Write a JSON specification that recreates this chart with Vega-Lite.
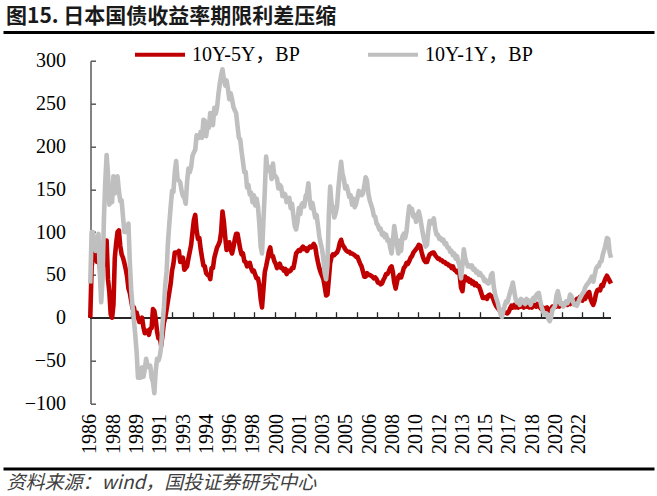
{
"$schema":"https://vega.github.io/schema/vega-lite/v6.json",
"width":651,"height":342.7,
"autosize":{"type":"none"},
"padding":{"left":3,"top":60.7,"right":3,"bottom":92.6},
"background":"white",
"title":{"text":"图15. 日本国债收益率期限利差压缩","anchor":"start","frame":"group","font":"Noto Sans CJK SC","fontSize":21,"fontWeight":"bold","color":"#1a1a1a","offset":1,"dx":3},
"config":{"view":{"stroke":null},"axis":{"grid":false}},
"data":{"values":[
{"t":1986.45,"s5":0,"s1":40},{"t":1986.55,"s5":60,"s1":100},{"t":1986.65,"s5":70,"s1":100},{"t":1986.75,"s5":75,"s1":90},{"t":1986.85,"s5":80,"s1":78},{"t":1986.95,"s5":65,"s1":80},{"t":1987.05,"s5":83,"s1":98},{"t":1987.15,"s5":62,"s1":52},{"t":1987.25,"s5":37,"s1":18},{"t":1987.35,"s5":58,"s1":45},
{"t":1987.45,"s5":66,"s1":115},{"t":1987.55,"s5":82,"s1":158},{"t":1987.65,"s5":90,"s1":190},{"t":1987.75,"s5":45,"s1":168},{"t":1987.85,"s5":30,"s1":132},{"t":1987.95,"s5":4,"s1":140},{"t":1988.05,"s5":0,"s1":135},{"t":1988.15,"s5":15,"s1":165},{"t":1988.25,"s5":70,"s1":145},{"t":1988.35,"s5":87,"s1":157},
{"t":1988.45,"s5":100,"s1":165},{"t":1988.55,"s5":102,"s1":148},{"t":1988.65,"s5":84,"s1":136},{"t":1988.75,"s5":74,"s1":137},{"t":1988.85,"s5":70,"s1":118},{"t":1988.95,"s5":64,"s1":100},{"t":1989.05,"s5":57,"s1":105},{"t":1989.15,"s5":48,"s1":100},{"t":1989.25,"s5":34,"s1":110},{"t":1989.35,"s5":29,"s1":65},
{"t":1989.45,"s5":20,"s1":33},{"t":1989.55,"s5":11,"s1":13},{"t":1989.65,"s5":12,"s1":-3},{"t":1989.75,"s5":3,"s1":-20},{"t":1989.85,"s5":6,"s1":-40},{"t":1989.95,"s5":0,"s1":-70},{"t":1990.05,"s5":-5,"s1":-60},{"t":1990.15,"s5":-5,"s1":-70},{"t":1990.25,"s5":0,"s1":-58},{"t":1990.35,"s5":-11,"s1":-69},
{"t":1990.45,"s5":-18,"s1":-60},{"t":1990.55,"s5":-17,"s1":-48},{"t":1990.65,"s5":-15,"s1":-56},{"t":1990.75,"s5":-20,"s1":-58},{"t":1990.85,"s5":-13,"s1":-56},{"t":1990.95,"s5":-12,"s1":-70},{"t":1991.05,"s5":10,"s1":-75},{"t":1991.15,"s5":8,"s1":-88},{"t":1991.25,"s5":-2,"s1":-62},{"t":1991.35,"s5":-16,"s1":-48},
{"t":1991.45,"s5":-24,"s1":-50},{"t":1991.55,"s5":-22,"s1":-45},{"t":1991.65,"s5":-33,"s1":-34},{"t":1991.75,"s5":-20,"s1":-7},{"t":1991.85,"s5":-6,"s1":12},{"t":1991.95,"s5":0,"s1":38},{"t":1992.05,"s5":10,"s1":54},{"t":1992.15,"s5":20,"s1":88},{"t":1992.25,"s5":30,"s1":110},{"t":1992.35,"s5":40,"s1":130},
{"t":1992.45,"s5":55,"s1":148},{"t":1992.55,"s5":63,"s1":147},{"t":1992.65,"s5":76,"s1":170},{"t":1992.75,"s5":76,"s1":183},{"t":1992.85,"s5":76,"s1":162},{"t":1992.95,"s5":78,"s1":160},{"t":1993.05,"s5":65,"s1":158},{"t":1993.15,"s5":68,"s1":148},{"t":1993.25,"s5":70,"s1":142},{"t":1993.35,"s5":56,"s1":140},
{"t":1993.45,"s5":58,"s1":133},{"t":1993.55,"s5":60,"s1":158},{"t":1993.65,"s5":69,"s1":174},{"t":1993.75,"s5":77,"s1":170},{"t":1993.85,"s5":85,"s1":176},{"t":1993.95,"s5":100,"s1":189},{"t":1994.05,"s5":114,"s1":193},{"t":1994.15,"s5":120,"s1":196},{"t":1994.25,"s5":102,"s1":213},{"t":1994.35,"s5":92,"s1":212},
{"t":1994.45,"s5":93,"s1":210},{"t":1994.55,"s5":80,"s1":217},{"t":1994.65,"s5":70,"s1":210},{"t":1994.75,"s5":61,"s1":231},{"t":1994.85,"s5":60,"s1":230},{"t":1994.95,"s5":52,"s1":212},{"t":1995.05,"s5":50,"s1":223},{"t":1995.15,"s5":50,"s1":222},{"t":1995.25,"s5":45,"s1":239},{"t":1995.35,"s5":58,"s1":227},
{"t":1995.45,"s5":58,"s1":225},{"t":1995.55,"s5":70,"s1":245},{"t":1995.65,"s5":76,"s1":238},{"t":1995.75,"s5":82,"s1":245},{"t":1995.85,"s5":85,"s1":261},{"t":1995.95,"s5":89,"s1":273},{"t":1996.05,"s5":100,"s1":283},{"t":1996.15,"s5":124,"s1":290},{"t":1996.25,"s5":112,"s1":278},{"t":1996.35,"s5":94,"s1":271},
{"t":1996.45,"s5":79,"s1":277},{"t":1996.55,"s5":81,"s1":267},{"t":1996.65,"s5":88,"s1":255},{"t":1996.75,"s5":80,"s1":262},{"t":1996.85,"s5":75,"s1":255},{"t":1996.95,"s5":82,"s1":246},{"t":1997.05,"s5":91,"s1":242},{"t":1997.15,"s5":98,"s1":239},{"t":1997.25,"s5":98,"s1":224},{"t":1997.35,"s5":89,"s1":210},
{"t":1997.45,"s5":80,"s1":208},{"t":1997.55,"s5":74,"s1":194},{"t":1997.65,"s5":75,"s1":182},{"t":1997.75,"s5":66,"s1":170},{"t":1997.85,"s5":65,"s1":170},{"t":1997.95,"s5":60,"s1":152},{"t":1998.05,"s5":61,"s1":155},{"t":1998.15,"s5":64,"s1":144},{"t":1998.25,"s5":58,"s1":146},{"t":1998.35,"s5":54,"s1":135},
{"t":1998.45,"s5":55,"s1":143},{"t":1998.55,"s5":50,"s1":131},{"t":1998.65,"s5":46,"s1":139},{"t":1998.75,"s5":46,"s1":130},{"t":1998.85,"s5":38,"s1":110},{"t":1998.95,"s5":22,"s1":83},{"t":1999.05,"s5":12,"s1":75},{"t":1999.15,"s5":33,"s1":112},{"t":1999.25,"s5":53,"s1":147},{"t":1999.35,"s5":60,"s1":188},
{"t":1999.45,"s5":68,"s1":172},{"t":1999.55,"s5":77,"s1":176},{"t":1999.65,"s5":82,"s1":174},{"t":1999.75,"s5":72,"s1":162},{"t":1999.85,"s5":72,"s1":180},{"t":1999.95,"s5":66,"s1":165},{"t":2000.05,"s5":63,"s1":165},{"t":2000.15,"s5":58,"s1":162},{"t":2000.25,"s5":61,"s1":151},{"t":2000.35,"s5":63,"s1":155},
{"t":2000.45,"s5":58,"s1":153},{"t":2000.55,"s5":58,"s1":142},{"t":2000.65,"s5":55,"s1":145},{"t":2000.75,"s5":57,"s1":144},{"t":2000.85,"s5":51,"s1":135},{"t":2000.95,"s5":55,"s1":136},{"t":2001.05,"s5":54,"s1":140},{"t":2001.15,"s5":55,"s1":128},{"t":2001.25,"s5":58,"s1":133},{"t":2001.35,"s5":58,"s1":119},
{"t":2001.45,"s5":66,"s1":107},{"t":2001.55,"s5":75,"s1":103},{"t":2001.65,"s5":77,"s1":112},{"t":2001.75,"s5":79,"s1":128},{"t":2001.85,"s5":78,"s1":121},{"t":2001.95,"s5":81,"s1":132},{"t":2002.05,"s5":83,"s1":134},{"t":2002.15,"s5":80,"s1":130},{"t":2002.25,"s5":81,"s1":142},{"t":2002.35,"s5":78,"s1":145},
{"t":2002.45,"s5":81,"s1":157},{"t":2002.55,"s5":83,"s1":137},{"t":2002.65,"s5":82,"s1":128},{"t":2002.75,"s5":84,"s1":134},{"t":2002.85,"s5":86,"s1":125},{"t":2002.95,"s5":83,"s1":117},{"t":2003.05,"s5":73,"s1":120},{"t":2003.15,"s5":65,"s1":108},{"t":2003.25,"s5":58,"s1":95},{"t":2003.35,"s5":53,"s1":87},
{"t":2003.45,"s5":49,"s1":80},{"t":2003.55,"s5":45,"s1":69},{"t":2003.65,"s5":36,"s1":52},{"t":2003.75,"s5":26,"s1":45},{"t":2003.85,"s5":27,"s1":62},{"t":2003.95,"s5":45,"s1":120},{"t":2004.05,"s5":64,"s1":153},{"t":2004.15,"s5":71,"s1":133},{"t":2004.25,"s5":74,"s1":128},{"t":2004.35,"s5":73,"s1":117},
{"t":2004.45,"s5":75,"s1":122},{"t":2004.55,"s5":76,"s1":130},{"t":2004.65,"s5":80,"s1":151},{"t":2004.75,"s5":87,"s1":168},{"t":2004.85,"s5":91,"s1":182},{"t":2004.95,"s5":85,"s1":168},{"t":2005.05,"s5":83,"s1":162},{"t":2005.15,"s5":80,"s1":151},{"t":2005.25,"s5":78,"s1":154},{"t":2005.35,"s5":77,"s1":148},
{"t":2005.45,"s5":77,"s1":141},{"t":2005.55,"s5":75,"s1":143},{"t":2005.65,"s5":75,"s1":132},{"t":2005.75,"s5":74,"s1":139},{"t":2005.85,"s5":73,"s1":129},{"t":2005.95,"s5":71,"s1":133},{"t":2006.05,"s5":71,"s1":140},{"t":2006.15,"s5":67,"s1":148},{"t":2006.25,"s5":63,"s1":146},{"t":2006.35,"s5":60,"s1":143},
{"t":2006.45,"s5":54,"s1":145},{"t":2006.55,"s5":48,"s1":154},{"t":2006.65,"s5":48,"s1":164},{"t":2006.75,"s5":52,"s1":160},{"t":2006.85,"s5":50,"s1":145},{"t":2006.95,"s5":50,"s1":137},{"t":2007.05,"s5":49,"s1":132},{"t":2007.15,"s5":48,"s1":127},{"t":2007.25,"s5":46,"s1":119},{"t":2007.35,"s5":47,"s1":118},
{"t":2007.45,"s5":45,"s1":110},{"t":2007.55,"s5":41,"s1":108},{"t":2007.65,"s5":41,"s1":103},{"t":2007.75,"s5":39,"s1":104},{"t":2007.85,"s5":40,"s1":97},{"t":2007.95,"s5":44,"s1":99},{"t":2008.05,"s5":47,"s1":94},{"t":2008.15,"s5":51,"s1":97},{"t":2008.25,"s5":51,"s1":90},{"t":2008.35,"s5":54,"s1":91},
{"t":2008.45,"s5":58,"s1":82},{"t":2008.55,"s5":60,"s1":75},{"t":2008.65,"s5":53,"s1":89},{"t":2008.75,"s5":41,"s1":107},{"t":2008.85,"s5":34,"s1":96},{"t":2008.95,"s5":42,"s1":85},{"t":2009.05,"s5":48,"s1":75},{"t":2009.15,"s5":50,"s1":90},{"t":2009.25,"s5":47,"s1":78},{"t":2009.35,"s5":52,"s1":95},
{"t":2009.45,"s5":58,"s1":98},{"t":2009.55,"s5":60,"s1":93},{"t":2009.65,"s5":64,"s1":101},{"t":2009.75,"s5":63,"s1":117},{"t":2009.85,"s5":66,"s1":130},{"t":2009.95,"s5":70,"s1":126},{"t":2010.05,"s5":72,"s1":127},{"t":2010.15,"s5":76,"s1":118},{"t":2010.25,"s5":78,"s1":120},{"t":2010.35,"s5":80,"s1":112},
{"t":2010.45,"s5":82,"s1":120},{"t":2010.55,"s5":85,"s1":124},{"t":2010.65,"s5":84,"s1":117},{"t":2010.75,"s5":77,"s1":107},{"t":2010.85,"s5":71,"s1":98},{"t":2010.95,"s5":67,"s1":90},{"t":2011.05,"s5":65,"s1":83},{"t":2011.15,"s5":65,"s1":85},{"t":2011.25,"s5":70,"s1":102},{"t":2011.35,"s5":74,"s1":113},
{"t":2011.45,"s5":75,"s1":110},{"t":2011.55,"s5":76,"s1":112},{"t":2011.65,"s5":76,"s1":116},{"t":2011.75,"s5":73,"s1":104},{"t":2011.85,"s5":71,"s1":97},{"t":2011.95,"s5":69,"s1":97},{"t":2012.05,"s5":69,"s1":92},{"t":2012.15,"s5":67,"s1":93},{"t":2012.25,"s5":67,"s1":90},{"t":2012.35,"s5":65,"s1":91},
{"t":2012.45,"s5":65,"s1":86},{"t":2012.55,"s5":63,"s1":87},{"t":2012.65,"s5":63,"s1":82},{"t":2012.75,"s5":61,"s1":82},{"t":2012.85,"s5":61,"s1":77},{"t":2012.95,"s5":58,"s1":78},{"t":2013.05,"s5":60,"s1":73},{"t":2013.15,"s5":56,"s1":75},{"t":2013.25,"s5":55,"s1":69},{"t":2013.35,"s5":53,"s1":72},
{"t":2013.45,"s5":55,"s1":65},{"t":2013.55,"s5":50,"s1":60},{"t":2013.65,"s5":35,"s1":46},{"t":2013.75,"s5":31,"s1":62},{"t":2013.85,"s5":45,"s1":80},{"t":2013.95,"s5":48,"s1":70},{"t":2014.05,"s5":44,"s1":64},{"t":2014.15,"s5":46,"s1":60},{"t":2014.25,"s5":42,"s1":61},{"t":2014.35,"s5":44,"s1":59},
{"t":2014.45,"s5":40,"s1":61},{"t":2014.55,"s5":42,"s1":56},{"t":2014.65,"s5":38,"s1":57},{"t":2014.75,"s5":40,"s1":53},{"t":2014.85,"s5":37,"s1":54},{"t":2014.95,"s5":37,"s1":50},{"t":2015.05,"s5":33,"s1":52},{"t":2015.15,"s5":28,"s1":49},{"t":2015.25,"s5":23,"s1":48},{"t":2015.35,"s5":23,"s1":43},
{"t":2015.45,"s5":24,"s1":44},{"t":2015.55,"s5":22,"s1":41},{"t":2015.65,"s5":26,"s1":40},{"t":2015.75,"s5":27,"s1":42},{"t":2015.85,"s5":25,"s1":50},{"t":2015.95,"s5":25,"s1":52},{"t":2016.05,"s5":20,"s1":36},{"t":2016.15,"s5":16,"s1":27},{"t":2016.25,"s5":13,"s1":22},{"t":2016.35,"s5":11,"s1":17},
{"t":2016.45,"s5":9,"s1":10},{"t":2016.55,"s5":9,"s1":4},{"t":2016.65,"s5":7,"s1":1},{"t":2016.75,"s5":7,"s1":8},{"t":2016.85,"s5":6,"s1":14},{"t":2016.95,"s5":6,"s1":19},{"t":2017.05,"s5":5,"s1":18},{"t":2017.15,"s5":7,"s1":24},{"t":2017.25,"s5":11,"s1":30},{"t":2017.35,"s5":14,"s1":35},
{"t":2017.45,"s5":12,"s1":41},{"t":2017.55,"s5":15,"s1":31},{"t":2017.65,"s5":12,"s1":22},{"t":2017.75,"s5":14,"s1":18},{"t":2017.85,"s5":12,"s1":20},{"t":2017.95,"s5":15,"s1":15},{"t":2018.05,"s5":13,"s1":22},{"t":2018.15,"s5":14,"s1":18},{"t":2018.25,"s5":12,"s1":20},{"t":2018.35,"s5":14,"s1":16},
{"t":2018.45,"s5":13,"s1":22},{"t":2018.55,"s5":15,"s1":18},{"t":2018.65,"s5":12,"s1":20},{"t":2018.75,"s5":14,"s1":15},{"t":2018.85,"s5":12,"s1":20},{"t":2018.95,"s5":14,"s1":23},{"t":2019.05,"s5":15,"s1":20},{"t":2019.15,"s5":13,"s1":26},{"t":2019.25,"s5":16,"s1":28},{"t":2019.35,"s5":14,"s1":29},
{"t":2019.45,"s5":12,"s1":20},{"t":2019.55,"s5":10,"s1":13},{"t":2019.65,"s5":12,"s1":8},{"t":2019.75,"s5":8,"s1":4},{"t":2019.85,"s5":11,"s1":5},{"t":2019.95,"s5":12,"s1":4},{"t":2020.05,"s5":10,"s1":-1},{"t":2020.15,"s5":8,"s1":-4},{"t":2020.25,"s5":10,"s1":0},{"t":2020.35,"s5":13,"s1":9},
{"t":2020.45,"s5":13,"s1":11},{"t":2020.55,"s5":13,"s1":14},{"t":2020.65,"s5":13,"s1":26},{"t":2020.75,"s5":14,"s1":31},{"t":2020.85,"s5":13,"s1":24},{"t":2020.95,"s5":15,"s1":16},{"t":2021.05,"s5":14,"s1":17},{"t":2021.15,"s5":16,"s1":13},{"t":2021.25,"s5":15,"s1":15},{"t":2021.35,"s5":17,"s1":19},
{"t":2021.45,"s5":15,"s1":17},{"t":2021.55,"s5":17,"s1":20},{"t":2021.65,"s5":16,"s1":27},{"t":2021.75,"s5":18,"s1":25},{"t":2021.85,"s5":17,"s1":19},{"t":2021.95,"s5":20,"s1":15},{"t":2022.05,"s5":18,"s1":16},{"t":2022.15,"s5":22,"s1":14},{"t":2022.25,"s5":20,"s1":18},{"t":2022.35,"s5":24,"s1":22},
{"t":2022.45,"s5":22,"s1":25},{"t":2022.55,"s5":20,"s1":28},{"t":2022.65,"s5":25,"s1":30},{"t":2022.75,"s5":22,"s1":35},{"t":2022.85,"s5":28,"s1":38},{"t":2022.95,"s5":25,"s1":40},{"t":2023.05,"s5":30,"s1":42},{"t":2023.15,"s5":22,"s1":45},{"t":2023.25,"s5":18,"s1":48},{"t":2023.35,"s5":15,"s1":42},
{"t":2023.45,"s5":20,"s1":50},{"t":2023.55,"s5":28,"s1":57},{"t":2023.65,"s5":32,"s1":60},{"t":2023.75,"s5":33,"s1":60},{"t":2023.85,"s5":32,"s1":65},{"t":2023.95,"s5":38,"s1":66},{"t":2024.05,"s5":37,"s1":74},{"t":2024.15,"s5":42,"s1":79},{"t":2024.25,"s5":46,"s1":85},{"t":2024.35,"s5":49,"s1":93},
{"t":2024.45,"s5":46,"s1":92},{"t":2024.55,"s5":43,"s1":76},{"t":2024.65,"s5":40,"s1":70}
]},
"layer":[
{"mark":{"type":"rule","color":"#262626","strokeWidth":1.5},
 "encoding":{
  "x":{"datum":1986.43,"type":"quantitative","scale":{"domain":[1980.048,2027.803],"nice":false,"zero":false},
   "axis":{"orient":"bottom","offset":-85.7,"domain":false,"labels":false,"ticks":true,"tickSize":-6,"tickColor":"#262626","tickWidth":1.3,"title":null,"grid":false,
    "values":[1986.43,1987.935,1989.441,1990.946,1992.451,1993.957,1995.462,1996.967,1998.472,1999.978,2001.483,2002.988,2004.494,2005.999,2007.504,2009.01,2010.515,2012.02,2013.525,2015.031,2016.536,2018.041,2019.547,2021.052,2022.557,2024.063]}},
  "x2":{"datum":2024.63},
  "y":{"datum":0,"type":"quantitative","scale":{"domain":[-100,300],"nice":false,"zero":false},
   "axis":{"title":null,"orient":"left","values":[-100,-50,0,50,100,150,200,250,300],"offset":-87.5,"tickSize":-5,"domainColor":"#595959","domainWidth":1.5,"tickColor":"#595959","tickWidth":1.5,"labelFont":"Liberation Serif","labelFontSize":20,"labelColor":"black","labelPadding":30,"grid":false}}
 }},
{"mark":{"type":"line","strokeWidth":4.6,"strokeJoin":"round"},
 "encoding":{
  "x":{"field":"t","type":"quantitative",
   "axis":{"orient":"bottom","offset":65,"domain":true,"domainColor":"black","domainWidth":3,"ticks":false,"labelAngle":-90,"labelExpr":"floor(datum.value)","labelFont":"Liberation Serif","labelFontSize":20,"labelColor":"black","labelPadding":-55,"labelFlush":false,"labelOverlap":false,"labelBound":false,
    "values":[1986.43,1988.137,1989.844,1991.551,1993.258,1994.965,1996.672,1998.379,2000.086,2001.793,2003.5,2005.207,2006.914,2008.621,2010.328,2012.035,2013.742,2015.449,2017.156,2018.863,2020.57,2022.277],
    "title":"资料来源：wind，国投证券研究中心","titleFont":"Noto Sans CJK SC","titleFontSize":19,"titleFontStyle":"italic","titleFontWeight":"normal","titleColor":"#404040","titleAnchor":"start","titleAlign":"left","titleBaseline":"middle","titleX":3,"titleY":13.7}},
  "y":{"field":"s5","type":"quantitative"},
  "color":{"datum":"10Y-5Y，BP","type":"nominal","scale":{"domain":["10Y-5Y，BP","10Y-1Y，BP"],"range":["#C00000","#BFBFBF"]},
   "legend":{"orient":"none","legendX":130,"legendY":-33,"direction":"horizontal","symbolType":"stroke","symbolSize":2500,"symbolStrokeWidth":4,"labelFont":"'Liberation Serif', 'Noto Sans CJK SC'","labelFontSize":20,"labelColor":"black","labelOffset":5,"columnPadding":60,"title":null,"padding":0,"labelLimit":300}}
 }},
{"mark":{"type":"line","strokeWidth":4.6,"strokeJoin":"round"},
 "encoding":{
  "x":{"field":"t","type":"quantitative",
   "axis":{"orient":"top","offset":28.7,"domain":true,"domainColor":"black","domainWidth":3,"ticks":false,"labels":false,"title":null}},
  "y":{"field":"s1","type":"quantitative"},
  "color":{"datum":"10Y-1Y，BP","type":"nominal"}
 }}
],
"resolve":{"axis":{"x":"independent"}}
}
